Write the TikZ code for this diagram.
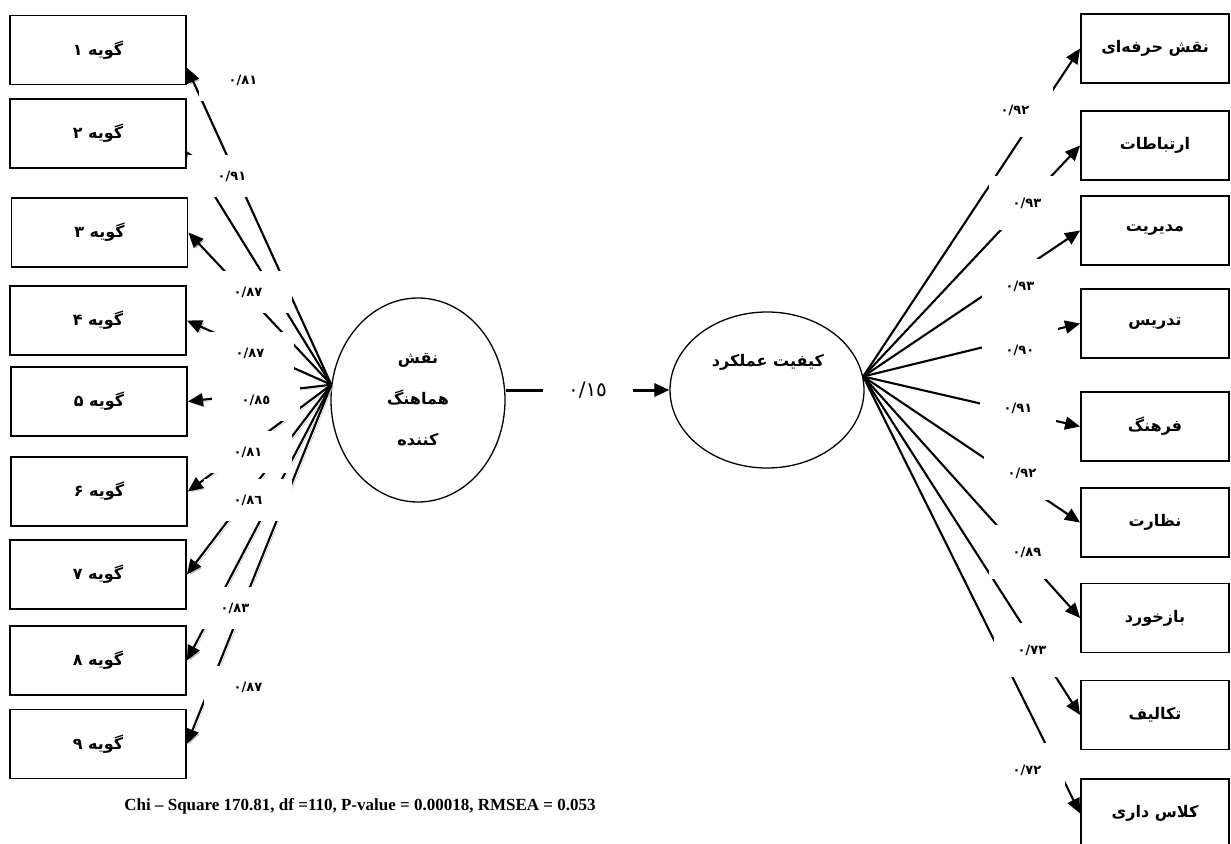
\documentclass[tikz,border=0pt]{standalone}
\usepackage{fontspec}
\usetikzlibrary{arrows.meta, shapes.geometric, positioning, calc}
\newfontfamily\fa[Script=Arabic, BoldFont={DejaVu Sans Bold}]{DejaVu Sans}
\newfontfamily\tnr{Liberation Serif}
\TeXXeTstate=1
\tikzset{>={Triangle[length=15pt,width=13pt]}}
\tikzset{
  item/.style={draw, line width=1.8pt, minimum height=69pt, inner sep=0pt, font=\fa\bfseries\fontsize{16}{19}\selectfont},
  factor/.style={draw, ellipse, line width=1.3pt, inner sep=0pt, align=center, font=\fa\bfseries\fontsize{16}{41}\selectfont},
  coef/.style={fill=white, inner sep=0pt, font=\fa\bfseries\fontsize{13}{16}\selectfont},
  lcoef/.style={coef, minimum width=88pt, minimum height=42pt},
  rcoef/.style={coef, minimum width=76pt, minimum height=54pt},
  load/.style={->, line width=2.1pt},
  shade/.style={preaction={draw=gray!55, transform canvas={shift={(1.8pt,-1.8pt)}}}},
}
\begin{document}
\begin{tikzpicture}[x=1pt, y=-1pt]
\useasboundingbox (0,0) rectangle (1231,843);
\node[item, minimum width=176pt] (q1) at (98,50) {\beginR گویه ۱\endR};
\node[item, minimum width=176pt] (q2) at (98,133.5) {\beginR گویه ۲\endR};
\node[item, minimum width=176pt] (q3) at (99.5,232.5) {\beginR گویه ۳\endR};
\node[item, minimum width=176pt] (q4) at (98,320.5) {\beginR گویه ۴\endR};
\node[item, minimum width=176pt] (q5) at (99,401.5) {\beginR گویه ۵\endR};
\node[item, minimum width=176pt] (q6) at (99,491.5) {\beginR گویه ۶\endR};
\node[item, minimum width=176pt] (q7) at (98,574.5) {\beginR گویه ۷\endR};
\node[item, minimum width=176pt] (q8) at (98,660.5) {\beginR گویه ۸\endR};
\node[item, minimum width=176pt] (q9) at (98,744) {\beginR گویه ۹\endR};
\node[item, minimum width=148pt] (d1) at (1155,48.5) {\beginR نقش حرفه‌ای\endR};
\node[item, minimum width=148pt] (d2) at (1155,145.5) {\beginR ارتباطات\endR};
\node[item, minimum width=148pt] (d3) at (1155,230.5) {\beginR مدیریت\endR};
\node[item, minimum width=148pt] (d4) at (1155,323.5) {\beginR تدریس\endR};
\node[item, minimum width=148pt] (d5) at (1155,426.5) {\beginR فرهنگ\endR};
\node[item, minimum width=148pt] (d6) at (1155,522.5) {\beginR نظارت\endR};
\node[item, minimum width=148pt] (d7) at (1155,618) {\beginR بازخورد\endR};
\node[item, minimum width=148pt] (d8) at (1155,715) {\beginR تکالیف\endR};
\node[item, minimum width=148pt] (d9) at (1155,813.5) {\beginR کلاس داری\endR};
\node[factor, minimum width=174pt, minimum height=204pt] (role) at (418,400) {\beginR نقش\endR\\ \beginR هماهنگ\endR\\ \beginR کننده\endR};
\node[factor, minimum width=194pt, minimum height=156pt] (perf) at (767,390) {};
\node[font=\fa\bfseries\fontsize{16}{19}\selectfont] (perft) at (768,362) {\beginR کیفیت عملکرد\endR};
\draw[load, shade] (role.170) -- ($(q1.east)!0.5!(q1.south east)$);
\draw[load, shade] (role.170) -- ($(q2.east)!0.5!(q2.south east)$);
\draw[load, shade] (role.170) -- (q3.east);
\draw[load, shade] (role.170) -- (q4.east);
\draw[load, shade] (role.170) -- (q5.east);
\draw[load, shade] (role.170) -- (q6.east);
\draw[load, shade] (role.170) -- (q7.east);
\draw[load, shade] (role.170) -- (q8.east);
\draw[load, shade] (role.170) -- (q9.east);
\draw[load] (perf.8) -- (d1.west);
\draw[load] (perf.8) -- (d2.west);
\draw[load] (perf.8) -- (d3.west);
\draw[load] (perf.8) -- (d4.west);
\draw[load] (perf.8) -- (d5.west);
\draw[load] (perf.8) -- (d6.west);
\draw[load] (perf.8) -- (d7.west);
\draw[load] (perf.8) -- (d8.west);
\draw[load] (perf.8) -- (d9.west);
\draw[load, line width=3pt] (role.east |- perf.west) -- node[coef, minimum width=90pt, minimum height=30pt, font=\fa\fontsize{20}{22}\selectfont] (c0) {۰/۱٥} (perf.west);
\node[lcoef] (c1) at (243,80) {۰/۸۱};
\node[lcoef] (c2) at (232,176) {۰/۹۱};
\node[lcoef] (c3) at (248,292) {۰/۸۷};
\node[lcoef] (c4) at (250,353) {۰/۸۷};
\node[lcoef] (c5) at (256,400) {۰/۸٥};
\node[lcoef] (c6) at (248,452) {۰/۸۱};
\node[lcoef] (c7) at (248,500) {۰/۸٦};
\node[lcoef] (c8) at (235,608) {۰/۸۳};
\node[lcoef] (c9) at (248,687) {۰/۸۷};
\node[rcoef] (e1) at (1015,110) {۰/۹۲};
\node[rcoef] (e2) at (1027,203) {۰/۹۳};
\node[rcoef] (e3) at (1020,286) {۰/۹۳};
\node[rcoef] (e4) at (1020,350) {۰/۹۰};
\node[rcoef] (e5) at (1018,408) {۰/۹۱};
\node[rcoef] (e6) at (1022,473) {۰/۹۲};
\node[rcoef] (e7) at (1027,552) {۰/۸۹};
\node[rcoef] (e8) at (1032,650) {۰/۷۳};
\node[rcoef] (e9) at (1027,770) {۰/۷۲};
\node[font=\tnr\bfseries\fontsize{17}{20}\selectfont] (fit) at (360,806) {Chi – Square 170.81, df =110, P-value = 0.00018, RMSEA = 0.053};
\end{tikzpicture}
\end{document}
